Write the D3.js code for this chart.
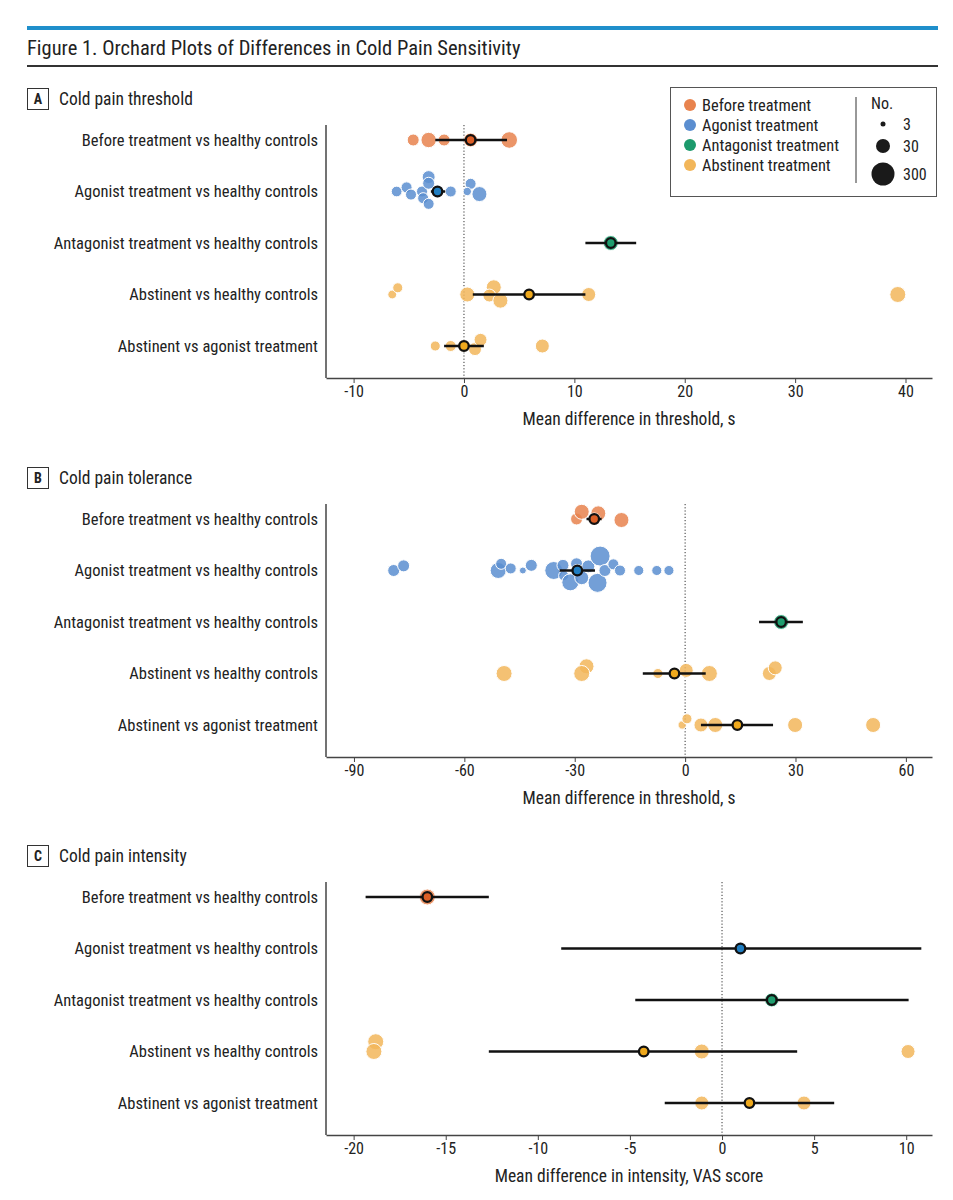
<!DOCTYPE html>
<html>
<head>
<meta charset="utf-8">
<script src="https://cdn.jsdelivr.net/npm/d3@7"></script>
<style>
  body { margin: 0; background: #fff; }
  text { font-family: "Roboto Condensed", "Liberation Sans Narrow", "DejaVu Sans Condensed", Roboto, sans-serif; fill: #222; }
</style>
</head>
<body>
<svg id="fig" width="953" height="1200"></svg>
<script>
// Row labels shared by the three panels
const rowLabels = [
  "Before treatment vs healthy controls",
  "Agonist treatment vs healthy controls",
  "Antagonist treatment vs healthy controls",
  "Abstinent vs healthy controls",
  "Abstinent vs agonist treatment"
];
// which treatment group each row belongs to
const rowGroup = [0, 1, 2, 3, 3];

const groupNames = ["Before treatment", "Agonist treatment", "Antagonist treatment", "Abstinent treatment"];
const groupColors = ["#e8834e", "#5b8ed0", "#1c9a6c", "#f2b65a"];
const meanColors = ["#dc5f26", "#1f7dc1", "#1f9e6f", "#efa91d"];

const sizeLegend = [3, 30, 300];

// Panel A, cold pain threshold: [row, effect size, n, jitter]
const thresholdPoints = [
  [0, -4.6, 18, 0], [0, -3.2, 43, 0], [0, -1.8, 18, 0], [0, 0.6, 30, 0], [0, 4.1, 58, 0],
  [1, -6.1, 13, 0], [1, -5.2, 14, -0.08], [1, -4.8, 14, 0.06], [1, -3.8, 14, 0], [1, -3.2, 23, -0.28],
  [1, -3.2, 18, -0.16], [1, -3.7, 14, 0.13], [1, -3.2, 14, 0.24], [1, -2.4, 18, 0], [1, -1.2, 14, 0],
  [1, 0.6, 14, -0.15], [1, 0.3, 7, 0], [1, 1.4, 39, 0.05],
  [2, 13.3, 39, 0],
  [3, -6.5, 8, 0], [3, -6.0, 11, -0.13], [3, 0.3, 39, 0], [3, 2.7, 39, -0.14], [3, 2.3, 23, 0.02],
  [3, 3.3, 39, 0.12], [3, 11.3, 30, 0], [3, 39.3, 50, 0],
  [4, -2.6, 11, 0], [4, -1.2, 14, 0], [4, 0, 18, 0], [4, 1.0, 23, 0.06], [4, 1.5, 23, -0.12], [4, 7.1, 30, 0]
];
const thresholdMean = [0.6, -2.4, 13.3, 5.9, 0.0];
const thresholdLow = [-2.6, -3.0, 11.0, 0.8, -1.8];
const thresholdHigh = [3.9, -1.7, 15.6, 11.0, 1.8];
const thresholdTicks = [-10, 0, 10, 20, 30, 40];

// Panel B, cold pain tolerance
const tolerancePoints = [
  [0, -29.5, 18, 0], [0, -28.1, 39, -0.14], [0, -23.6, 39, -0.11], [0, -24.7, 18, 0], [0, -17.3, 39, 0.02],
  [1, -79.2, 18, 0], [1, -76.5, 18, -0.09], [1, -50.8, 50, 0], [1, -50.0, 14, -0.13], [1, -47.4, 14, -0.04],
  [1, -44.1, 5, 0], [1, -41.8, 18, -0.1], [1, -35.7, 83, 0], [1, -33.2, 18, -0.1], [1, -33.0, 11, 0.1],
  [1, -31.2, 65, 0.23], [1, -29.5, 18, -0.13], [1, -29.3, 18, 0], [1, -28.1, 30, 0.14], [1, -26.3, 23, -0.08],
  [1, -23.1, 140, -0.28], [1, -23.8, 109, 0.24], [1, -21.8, 18, 0], [1, -19.5, 14, -0.12], [1, -17.7, 14, 0],
  [1, -12.6, 11, 0], [1, -7.7, 11, 0], [1, -4.4, 11, 0],
  [2, 26.1, 39, 0],
  [3, -49.2, 50, 0], [3, -26.8, 39, -0.14], [3, -28.1, 50, 0], [3, -7.4, 11, 0], [3, 0.3, 30, -0.06],
  [3, 6.6, 50, 0], [3, 22.9, 30, 0], [3, 24.5, 30, -0.11],
  [4, -0.8, 7, 0], [4, 0.5, 11, -0.12], [4, 4.3, 30, 0], [4, 8.2, 39, 0], [4, 29.9, 39, 0], [4, 51.1, 39, 0]
];
const toleranceMean = [-24.7, -29.3, 26.1, -2.9, 14.2];
const toleranceLow = [-26.8, -34.1, 20.1, -11.5, 4.3];
const toleranceHigh = [-22.7, -24.5, 32.0, 5.6, 23.9];
const toleranceTicks = [-90, -60, -30, 0, 30, 60];

// Panel C, cold pain intensity
const intensityPoints = [
  [0, -16.0, 50, 0], [1, 1.0, 18, 0], [2, 2.7, 30, 0],
  [3, -18.8, 50, -0.19], [3, -18.9, 50, 0], [3, -1.1, 39, 0], [3, 10.1, 30, 0],
  [4, -1.1, 30, 0], [4, 4.45, 30, 0]
];
const intensityMean = [-16.0, 1.0, 2.7, -4.25, 1.49];
const intensityLow = [-19.35, -8.73, -4.71, -12.66, -3.11];
const intensityHigh = [-12.66, 10.82, 10.13, 4.08, 6.09];
const intensityTicks = [-20, -15, -10, -5, 0, 5, 10];

const panels = [
  { letter: "A", title: "Cold pain threshold", axisTitle: "Mean difference in threshold, s",
    domain: [-12.5, 42.4], ticks: thresholdTicks, top: 125,
    points: thresholdPoints, mean: thresholdMean, low: thresholdLow, high: thresholdHigh },
  { letter: "B", title: "Cold pain tolerance", axisTitle: "Mean difference in threshold, s",
    domain: [-97.6, 67.1], ticks: toleranceTicks, top: 504,
    points: tolerancePoints, mean: toleranceMean, low: toleranceLow, high: toleranceHigh },
  { letter: "C", title: "Cold pain intensity", axisTitle: "Mean difference in intensity, VAS score",
    domain: [-21.5, 11.4], ticks: intensityTicks, top: 882,
    points: intensityPoints, mean: intensityMean, low: intensityLow, high: intensityHigh }
];

const svg = d3.select("#fig");
const left = 326, right = 932;

// bubble radius follows the study size on a log scale
const rScale = d3.scaleLog().domain([3, 300]).range([2.5, 11.5]);

// Figure header
svg.append("rect").attr("x", 27).attr("y", 26).attr("width", 911).attr("height", 4).attr("fill", "#1f8fcb");
svg.append("text").attr("x", 27).attr("y", 55).style("font-size", "20.5px").text("Figure 1. Orchard Plots of Differences in Cold Pain Sensitivity");
svg.append("line").attr("x1", 27).attr("x2", 938).attr("y1", 66).attr("y2", 66).attr("stroke", "#333").attr("stroke-width", 2);

function drawPanel(p) {
  const g = svg.append("g");
  const x = d3.scaleLinear().domain(p.domain).range([left, right]);
  const y = d3.scalePoint().domain(d3.range(rowLabels.length)).range([p.top + 15, p.top + 221]);
  const jit = d3.scaleLinear().domain([-1, 1]).range([-y.step(), y.step()]);
  const axisY = p.top + 253;

  // panel letter box and title
  g.append("rect").attr("x", 27.5).attr("y", p.top - 36.5).attr("width", 21).attr("height", 21)
    .attr("fill", "none").attr("stroke", "#333").attr("stroke-width", 1);
  g.append("text").attr("x", 38).attr("y", p.top - 26).attr("text-anchor", "middle")
    .attr("dominant-baseline", "central").style("font-size", "14px").style("font-weight", "bold").text(p.letter);
  g.append("text").attr("x", 59).attr("y", p.top - 26).attr("dominant-baseline", "central")
    .style("font-size", "17.5px").text(p.title);

  // row labels
  g.selectAll(".rowlab").data(rowLabels).enter().append("text")
    .attr("x", 318).attr("y", (d, i) => y(i)).attr("text-anchor", "end")
    .attr("dominant-baseline", "central").style("font-size", "16.5px").text(d => d);

  // y axis line
  g.append("line").attr("x1", left).attr("x2", left).attr("y1", p.top).attr("y2", axisY)
    .attr("stroke", "#444").attr("stroke-width", 1.5);

  // x axis
  const ax = g.append("g").attr("transform", `translate(0,${axisY})`)
    .call(d3.axisBottom(x).tickValues(p.ticks).tickSize(5).tickSizeOuter(0).tickFormat(d => String(d)));
  ax.attr("font-family", null);
  ax.select(".domain").attr("stroke", "#444").attr("stroke-width", 1.5);
  ax.selectAll(".tick line").attr("stroke", "#444");
  ax.selectAll(".tick text").style("font-size", "16px").attr("fill", "#222");
  g.append("text").attr("x", (left + right) / 2).attr("y", axisY + 47).attr("text-anchor", "middle")
    .style("font-size", "17.5px").text(p.axisTitle);

  // zero reference line
  g.append("line").attr("x1", x(0)).attr("x2", x(0)).attr("y1", p.top).attr("y2", axisY)
    .attr("stroke", "#333").attr("stroke-width", 1).attr("stroke-dasharray", "1.2,2");

  // individual effect sizes
  g.selectAll(".pt").data(p.points).enter().append("circle")
    .attr("cx", d => x(d[1]))
    .attr("cy", d => y(d[0]) + jit(d[3]))
    .attr("r", d => rScale(d[2]))
    .attr("fill", d => groupColors[rowGroup[d[0]]])
    .attr("fill-opacity", 0.85)
    .attr("stroke", "#fff").attr("stroke-width", 1);

  // pooled estimate with confidence interval
  const rows = d3.range(rowLabels.length);
  g.selectAll(".ci").data(rows).enter().append("line")
    .attr("x1", i => x(p.low[i])).attr("x2", i => x(p.high[i]))
    .attr("y1", i => y(i)).attr("y2", i => y(i))
    .attr("stroke", "#111").attr("stroke-width", 2.5);
  g.selectAll(".mean").data(rows).enter().append("circle")
    .attr("cx", i => x(p.mean[i])).attr("cy", i => y(i)).attr("r", 4.8)
    .attr("fill", i => meanColors[rowGroup[i]])
    .attr("stroke", "#111").attr("stroke-width", 2.3);
}

panels.forEach(drawPanel);

// Legend
const lg = svg.append("g");
lg.append("rect").attr("x", 670.5).attr("y", 87.5).attr("width", 266).attr("height", 109)
  .attr("fill", "#fff").attr("stroke", "#555").attr("stroke-width", 1);
const ly = d3.scalePoint().domain(groupNames).range([105, 165]);
lg.selectAll(".lc").data(groupNames).enter().append("circle")
  .attr("cx", 690).attr("cy", d => ly(d)).attr("r", 6)
  .attr("fill", (d, i) => groupColors[i]);
lg.selectAll(".lt").data(groupNames).enter().append("text")
  .attr("x", 702).attr("y", d => ly(d)).attr("dominant-baseline", "central")
  .style("font-size", "16.4px").text(d => d);
lg.append("line").attr("x1", 856).attr("x2", 856).attr("y1", 97).attr("y2", 183)
  .attr("stroke", "#333").attr("stroke-width", 1);
lg.append("text").attr("x", 871).attr("y", 103).attr("dominant-baseline", "central")
  .style("font-size", "16px").text("No.");
const sizeY = [124, 146, 174];
lg.selectAll(".sc").data(sizeLegend).enter().append("circle")
  .attr("cx", 883).attr("cy", (d, i) => sizeY[i]).attr("r", d => rScale(d)).attr("fill", "#1a1a1a");
lg.selectAll(".st").data(sizeLegend).enter().append("text")
  .attr("x", 903).attr("y", (d, i) => sizeY[i]).attr("dominant-baseline", "central")
  .style("font-size", "16px").text(d => d);
</script>
</body>
</html>
